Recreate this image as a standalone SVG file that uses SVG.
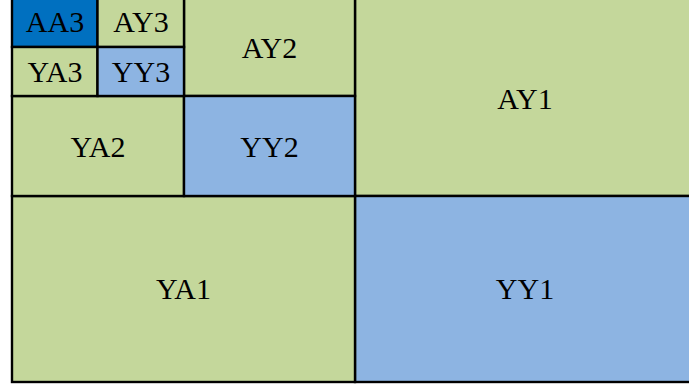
<svg xmlns="http://www.w3.org/2000/svg" width="689" height="387" viewBox="0 0 689 387">
<style>
.c{stroke:#000;stroke-width:2.4}
.g{fill:#C4D79B}
.b{fill:#8DB4E2}
.d{fill:#0070C0}
.t{font-family:'Liberation Serif','Times New Roman',Times,'DejaVu Serif',serif;font-size:30px;fill:#000;text-anchor:middle}
</style>
<rect x="0" y="0" width="689" height="387" fill="#ffffff"/>
<g id="AY1"><rect class="c g" x="355" y="-2" width="345" height="198"/><text class="t" x="525" y="109">AY1</text></g>
<g id="YY1"><rect class="c b" x="355" y="196" width="345" height="186"/><text class="t" x="525" y="299">YY1</text></g>
<g id="YA1"><rect class="c g" x="12" y="196" width="343" height="186"/><text class="t" x="183.5" y="299">YA1</text></g>
<g id="AY2"><rect class="c g" x="184" y="-2" width="171" height="98"/><text class="t" x="269.5" y="57.5">AY2</text></g>
<g id="YA2"><rect class="c g" x="12" y="96" width="172" height="100"/><text class="t" x="98" y="157">YA2</text></g>
<g id="YY2"><rect class="c b" x="184" y="96" width="171" height="100"/><text class="t" x="269.5" y="157">YY2</text></g>
<g id="AA3"><rect class="c d" x="12" y="-2" width="85.5" height="49"/><text class="t" x="55" y="32">AA3</text></g>
<g id="AY3"><rect class="c g" x="97.5" y="-2" width="86.5" height="49"/><text class="t" x="141" y="32">AY3</text></g>
<g id="YA3"><rect class="c g" x="12" y="47" width="85.5" height="49"/><text class="t" x="55" y="82">YA3</text></g>
<g id="YY3"><rect class="c b" x="97.5" y="47" width="86.5" height="49"/><text class="t" x="141" y="82">YY3</text></g>
<g id="connectors"></g>
</svg>
